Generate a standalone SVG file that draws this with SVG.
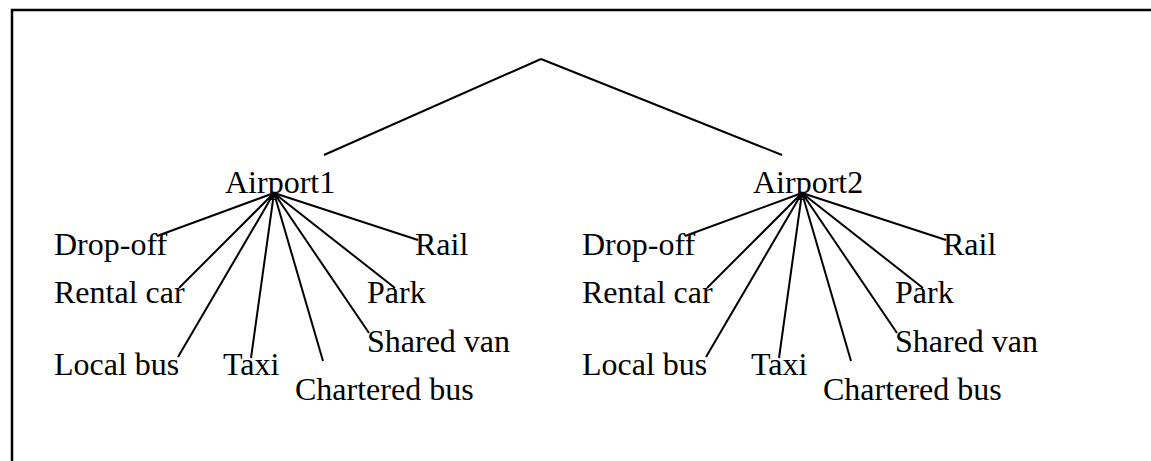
<svg xmlns="http://www.w3.org/2000/svg" width="1151" height="461" viewBox="0 0 1151 461">
<style>
.t{font-family:"Liberation Serif","Times New Roman",serif;font-size:32px;fill:#000}
.c line{stroke:#000;stroke-width:2;fill:none}
</style>
<rect x="0" y="0" width="1151" height="461" fill="#fff"/>
<path d="M12,470 V10 H1160" fill="none" stroke="#000" stroke-width="2.5"/>
<g class="c" id="connectors">
<line x1="541" y1="59" x2="324" y2="155"/>
<line x1="541" y1="59" x2="782" y2="155"/>
<line x1="274" y1="193" x2="157" y2="236"/>
<line x1="274" y1="193" x2="179" y2="288"/>
<line x1="274" y1="193" x2="178" y2="357"/>
<line x1="274" y1="193" x2="251" y2="358"/>
<line x1="274" y1="193" x2="323" y2="361"/>
<line x1="274" y1="193" x2="369" y2="333"/>
<line x1="274" y1="193" x2="395" y2="288"/>
<line x1="274" y1="193" x2="418" y2="240"/>
<line x1="802" y1="193" x2="685" y2="236"/>
<line x1="802" y1="193" x2="707" y2="288"/>
<line x1="802" y1="193" x2="706" y2="357"/>
<line x1="802" y1="193" x2="779" y2="358"/>
<line x1="802" y1="193" x2="851" y2="361"/>
<line x1="802" y1="193" x2="897" y2="333"/>
<line x1="802" y1="193" x2="923" y2="288"/>
<line x1="802" y1="193" x2="946" y2="240"/>
</g>
<g id="airport1"><text class="t" x="225" y="193">Airport1</text></g>
<g id="a1-dropoff"><text class="t" x="54" y="255">Drop-off</text></g>
<g id="a1-rental"><text class="t" x="54" y="303">Rental car</text></g>
<g id="a1-localbus"><text class="t" x="54" y="375">Local bus</text></g>
<g id="a1-taxi"><text class="t" x="223" y="375">Taxi</text></g>
<g id="a1-chartered"><text class="t" x="295" y="400">Chartered bus</text></g>
<g id="a1-sharedvan"><text class="t" x="367" y="352">Shared van</text></g>
<g id="a1-park"><text class="t" x="367" y="303">Park</text></g>
<g id="a1-rail"><text class="t" x="415" y="255">Rail</text></g>
<g id="airport2"><text class="t" x="753" y="193">Airport2</text></g>
<g id="a2-dropoff"><text class="t" x="582" y="255">Drop-off</text></g>
<g id="a2-rental"><text class="t" x="582" y="303">Rental car</text></g>
<g id="a2-localbus"><text class="t" x="582" y="375">Local bus</text></g>
<g id="a2-taxi"><text class="t" x="751" y="375">Taxi</text></g>
<g id="a2-chartered"><text class="t" x="823" y="400">Chartered bus</text></g>
<g id="a2-sharedvan"><text class="t" x="895" y="352">Shared van</text></g>
<g id="a2-park"><text class="t" x="895" y="303">Park</text></g>
<g id="a2-rail"><text class="t" x="943" y="255">Rail</text></g>
</svg>
